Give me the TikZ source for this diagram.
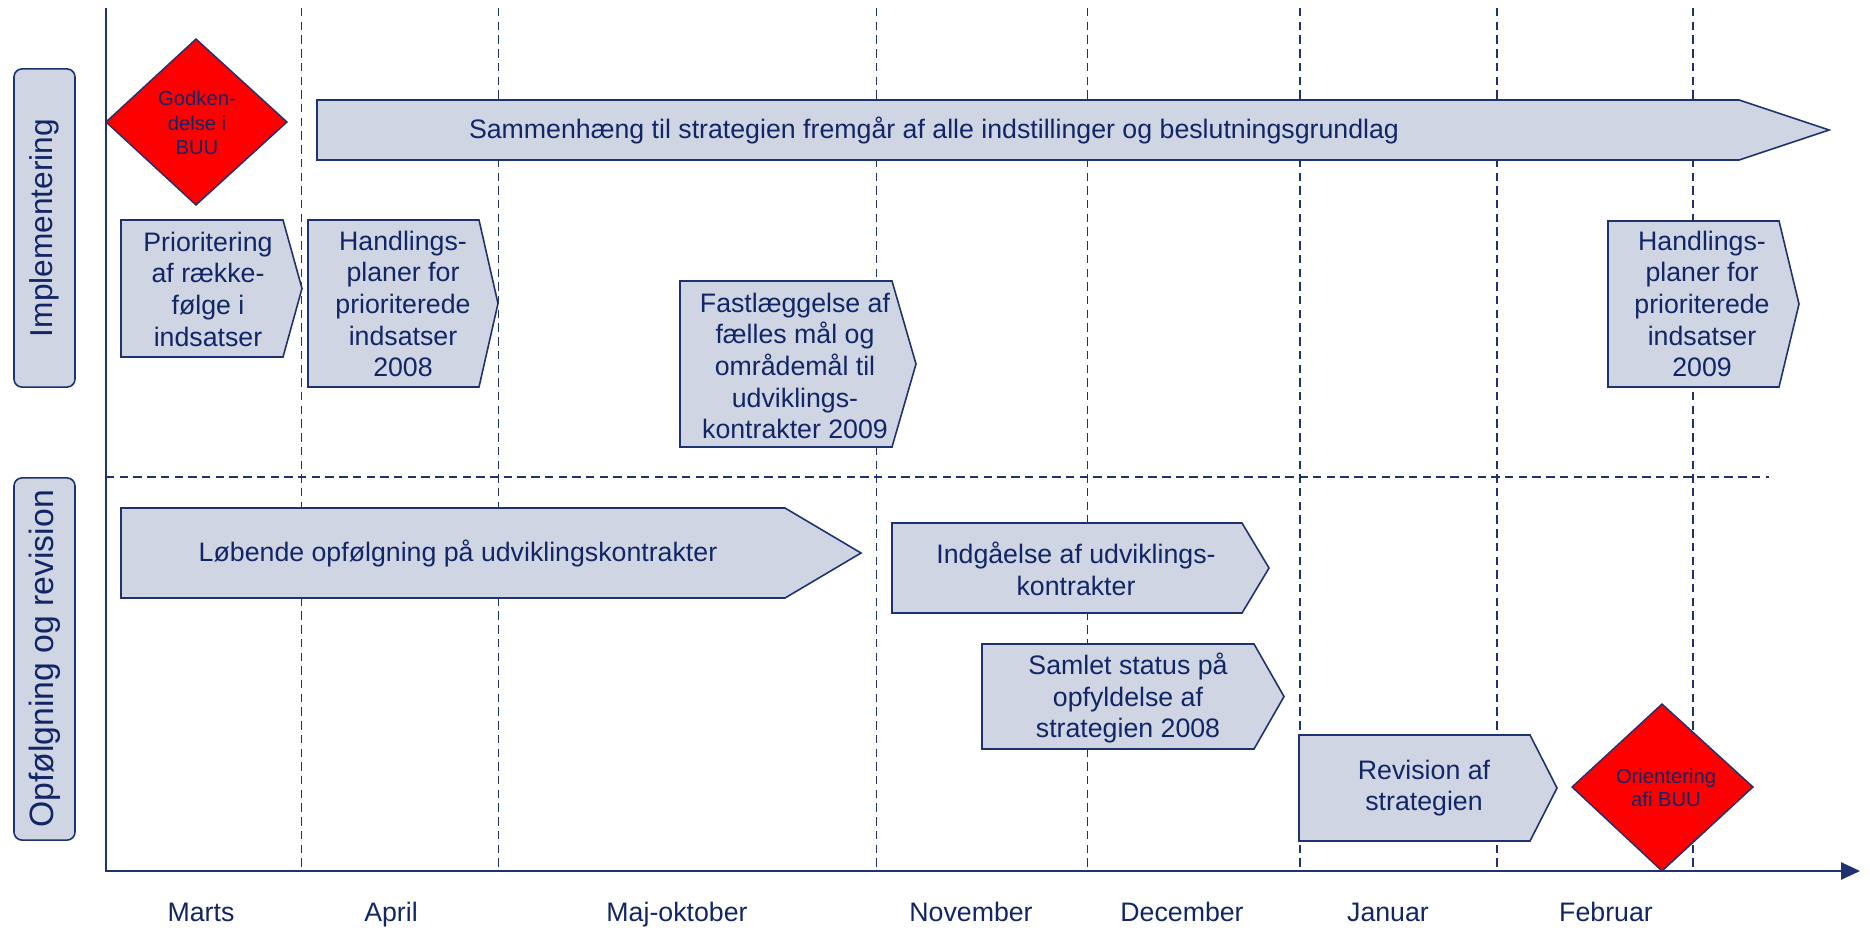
\documentclass[tikz,border=0pt]{standalone}
\usepackage{fontspec}
\setmainfont{Liberation Sans}
\usetikzlibrary{arrows.meta}
\definecolor{navy}{RGB}{30,50,112}
\definecolor{boxfill}{RGB}{207,213,226}
\definecolor{textblue}{RGB}{18,38,102}

\begin{document}
\begin{tikzpicture}[x=0.01cm, y=-0.01cm,
    box/.style={draw=navy, fill=boxfill, line width=0.45pt, line join=miter},
    milestone/.style={draw=navy, fill=red, line width=0.4pt},
    gridline/.style={navy, line width=0.4pt, dash pattern=on 2.4pt off 1.5pt},
    boxtext/.style={text=textblue, align=center, font=\fontsize{7.6}{9.0}\selectfont},
    smalltext/.style={text=textblue, align=center, font=\fontsize{5.75}{7.0}\selectfont},
    month/.style={text=textblue, anchor=base, font=\fontsize{7.6}{9.0}\selectfont},
    phase/.style={draw=navy, fill=boxfill, line width=0.45pt, rounded corners=2.3pt,
      rotate=90, text=textblue, inner sep=0pt, minimum height=0.61cm}]
    \useasboundingbox (0,0) rectangle (1870,927);

    % Month separators
    \foreach \x in {301.7, 498.5, 876.6, 1087.7, 1300, 1497, 1693} {
      \draw[gridline] (\x,8) -- (\x,871);
    }
    % Phase separator
    \draw[gridline] (106,477) -- (1769,477);

    % Time axis
    \draw[navy, line width=0.5pt, -{Triangle[length=5.4pt,width=4.9pt]}]
      (106,8) -- (106,871) -- (1860,871);

    % Activities: left/top/right/tip/bottom
    \foreach \l/\t/\r/\p/\b in {121/220/283/302/357,     % Prioritering
                                308/220/479/498/387,     % Handlingsplaner 2008
                                680/281/892/916/447,     % Fastlaeggelse
                                1608/221/1779/1799/387,  % Handlingsplaner 2009
                                317/100/1739/1829/160,   % Sammenhaeng
                                121/508/785/861/598,     % Loebende
                                892/523/1242/1269/613,   % Indgaaelse
                                982/644/1254/1284/749,   % Samlet status
                                1299/735/1530/1557/841}  % Revision
    {
      \draw[box] (\l,\t) -- (\r,\t) -- (\p,{(\t+\b)/2}) -- (\r,\b) -- (\l,\b) -- cycle;
    }

    % Milestones
    \draw[milestone] (196,39) -- (287,122) -- (196,205) -- (106,122) -- cycle;
    \draw[milestone] (1662,704) -- (1753,787) -- (1662,871) -- (1572,787) -- cycle;

    % Phase labels
    \node[phase, minimum width=3.18cm, font=\fontsize{9.0}{10}\selectfont] (impl) at (44.5,228) {Implementering};
    \node[phase, minimum width=3.62cm, font=\fontsize{9.6}{10}\selectfont] (opf) at (44.5,659) {Opfølgning og revision};

    % Activity texts
    \node[boxtext] (sammen) at (934,130) {Sammenhæng til strategien fremgår af alle indstillinger og beslutningsgrundlag};
    \node[boxtext] (prio) at (208,289) {Prioritering\\af række-\\følge i\\indsatser};
    \node[boxtext] (hp08) at (403,304) {Handlings-\\planer for\\prioriterede\\indsatser\\2008};
    \node[boxtext] (fast) at (795,366) {Fastlæggelse af\\fælles mål og\\områdemål til\\udviklings-\\kontrakter 2009};
    \node[boxtext] (hp09) at (1702,304) {Handlings-\\planer for\\prioriterede\\indsatser\\2009};
    \node[boxtext] (loeb) at (458,553) {Løbende opfølgning på udviklingskontrakter};
    \node[boxtext] (indg) at (1076,569) {Indgåelse af udviklings-\\kontrakter};
    \node[boxtext] (status) at (1128,698) {Samlet status på\\opfyldelse af\\strategien 2008};
    \node[boxtext] (rev) at (1424,788) {Revision af\\strategien};

    % Milestone texts
    \node[smalltext] (godk) at (197,123) {Godken-\\delse i\\BUU};
    \node[smalltext, font=\fontsize{5.75}{6.6}\selectfont] (orient) at (1666,788) {Orientering\\afi BUU};

    % Months
    \foreach \x/\m in {201/Marts, 391/April, 677/Maj-oktober, 971/November,
                       1182/December, 1388/Januar, 1606/Februar} {
      \node[month] (\m) at (\x,921) {\m};
    }
  \end{tikzpicture}
\end{document}
